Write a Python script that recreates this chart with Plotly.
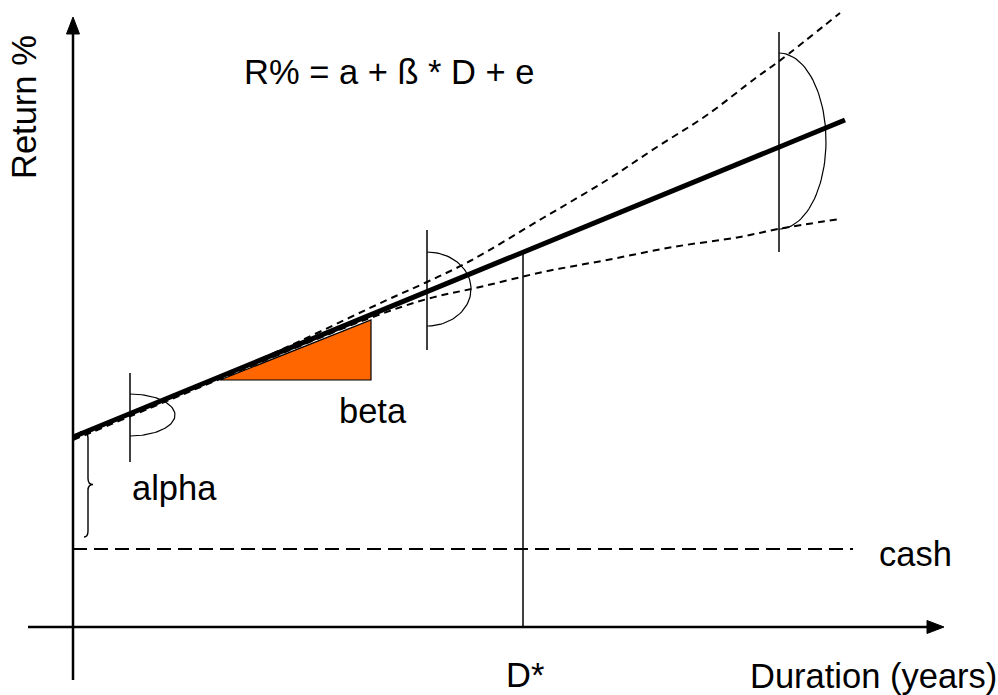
import numpy as np
import plotly.graph_objects as go

# Regression of return on duration: R% = a + beta * D + e
alpha = 190.0          # return at zero duration
beta = 0.4106          # slope of the fitted line
d_max = 772.0          # last duration drawn for the fitted line
d_star = 450.0         # optimal duration D*
cash_level = 78.0      # cash return

# Confidence band around the fitted line (upper / lower dashed curves)
upper_x = [0, 77, 147, 227, 314, 354, 397, 470, 534, 584, 634, 684, 705, 767]
upper_y = [188, 221, 250, 286, 327, 345, 366, 409, 447, 480, 512, 550, 565, 614]
lower_x = [0, 77, 147, 227, 297, 354, 407, 470, 534, 600, 667, 705, 767]
lower_y = [187, 219, 248, 281, 309, 328, 340, 355, 367, 380, 390, 398, 408]

# Error distributions drawn at three durations
dist_d = [57, 354, 706]
dist_mid = [212, 338, 486]
dist_half = [21, 37, 88]
dist_width = [45, 44, 47]
tick_lo = [165, 277, 375]
tick_hi = [254, 397, 595]

# Slope triangle
tri_x = [147, 298, 298]
tri_y = [247, 247, 307]

# Axes extents
x_axis_from, x_axis_to = -45, 871
y_axis_from, y_axis_to = -53, 610

X_RANGE = [-73, 925]
Y_RANGE = [-68, 627]

FONT = "Liberation Sans, Arial, sans-serif"
FS = 34.5

fig = go.Figure()


def add_line(xs, ys, width, dash="solid", color="black"):
    fig.add_trace(go.Scatter(x=xs, y=ys, mode="lines",
                             line=dict(color=color, width=width, dash=dash),
                             hoverinfo="skip", showlegend=False))


# Slope triangle (filled)
fig.add_trace(go.Scatter(x=tri_x + [tri_x[0]], y=tri_y + [tri_y[0]], mode="lines",
                         fill="toself", fillcolor="#FF6600",
                         line=dict(color="black", width=1.2),
                         hoverinfo="skip", showlegend=False))

# Axes
add_line([0, 0], [y_axis_from, y_axis_to - 10], 2.5)
add_line([x_axis_from, x_axis_to - 10], [0, 0], 2.5)

# Arrowheads on the axes
head_len, head_half = 17, 6.5
fig.add_trace(go.Scatter(
    x=[0, -head_half, head_half, 0],
    y=[y_axis_to, y_axis_to - head_len, y_axis_to - head_len, y_axis_to],
    mode="lines", fill="toself", fillcolor="black", line=dict(color="black", width=1),
    hoverinfo="skip", showlegend=False))
fig.add_trace(go.Scatter(
    x=[x_axis_to, x_axis_to - head_len, x_axis_to - head_len, x_axis_to],
    y=[0, head_half, -head_half, 0],
    mode="lines", fill="toself", fillcolor="black", line=dict(color="black", width=1),
    hoverinfo="skip", showlegend=False))

# Cash level
add_line([0, 780], [cash_level, cash_level], 2, dash="14px,7px")

# D* marker
add_line([d_star, d_star], [0, alpha + beta * d_star], 1.5)

# Confidence band
fig.add_trace(go.Scatter(x=upper_x, y=upper_y, mode="lines", line_shape="spline",
                         line=dict(color="black", width=2, dash="7px,5px"),
                         hoverinfo="skip", showlegend=False))
fig.add_trace(go.Scatter(x=lower_x, y=lower_y, mode="lines", line_shape="spline",
                         line=dict(color="black", width=2, dash="7px,5px"),
                         hoverinfo="skip", showlegend=False))

# Error distributions: vertical bar plus a half-ellipse
t = np.linspace(-np.pi / 2, np.pi / 2, 60)
for d, m, h, w, lo, hi in zip(dist_d, dist_mid, dist_half, dist_width, tick_lo, tick_hi):
    add_line([d, d], [lo, hi], 1.5)
    add_line(d + w * np.cos(t), m - h * np.sin(t), 1.2)

# Fitted line
add_line([0, d_max], [alpha, alpha + beta * d_max], 5)

# Brace marking alpha above cash
bx, btop, bbot = 15, 195, 90
bmid = (btop + bbot) / 2
brace = (f"M {bx-8},{btop} Q {bx},{btop+1} {bx},{btop-6} "
         f"L {bx},{bmid+6} Q {bx},{bmid} {bx+5},{bmid} "
         f"Q {bx},{bmid} {bx},{bmid-6} "
         f"L {bx},{bbot+6} Q {bx},{bbot} {bx-4},{bbot}")
fig.add_shape(type="path", path=brace, xref="x", yref="y",
              line=dict(color="black", width=1.4))


def label(text, x, y, angle=0):
    fig.add_annotation(x=x, y=y, text=text, showarrow=False, textangle=angle,
                       xanchor="center", yanchor="middle",
                       font=dict(family=FONT, size=FS, color="black"))


label("R% = a + ß * D + e", 316, 555)
label("Return %", -49, 520, angle=-90)
label("beta", 300, 216)
label("alpha", 101, 139)
label("cash", 842, 73)
label("D*", 452, -48)
label("Duration (years)", 800, -49)

fig.update_layout(
    width=998, height=695, autosize=False,
    margin=dict(l=0, r=0, t=0, b=0),
    paper_bgcolor="white", plot_bgcolor="white",
    xaxis=dict(range=X_RANGE, visible=False, fixedrange=True),
    yaxis=dict(range=Y_RANGE, visible=False, fixedrange=True),
    showlegend=False,
)

fig.write_html("out.html")
